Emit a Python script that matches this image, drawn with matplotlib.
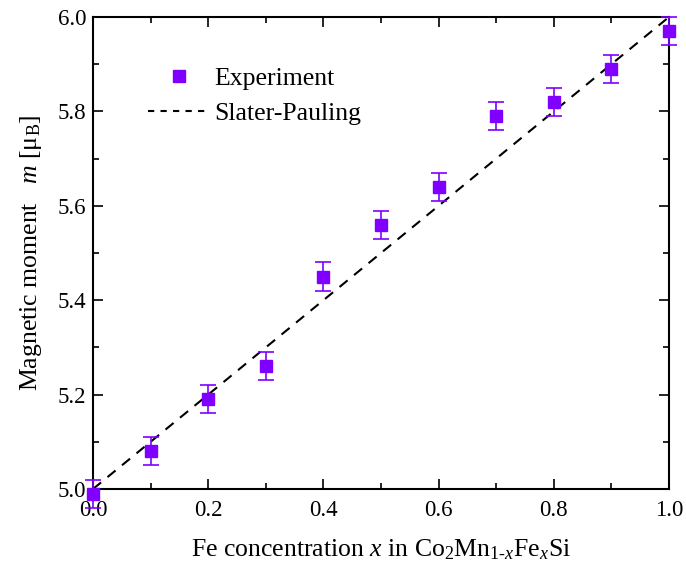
import matplotlib
matplotlib.use('Agg')
import matplotlib.pyplot as plt
from matplotlib.lines import Line2D
import numpy as np

plt.rcParams['font.family'] = ['Liberation Serif', 'DejaVu Serif']
plt.rcParams['mathtext.fontset'] = 'custom'
plt.rcParams['mathtext.rm'] = 'Liberation Serif'
plt.rcParams['mathtext.it'] = 'Liberation Serif:italic'

# measured moments vs Fe content
fe_conc = [0.0, 0.1, 0.2, 0.3, 0.4, 0.5, 0.6, 0.7, 0.8, 0.9, 1.0]
moment = [4.99, 5.08, 5.19, 5.26, 5.45, 5.56, 5.64, 5.79, 5.82, 5.89, 5.97]
moment_err = [0.03] * len(fe_conc)

# Slater-Pauling rule: m = 5 + x
sp_x = [0.0, 1.0]
sp_y = [5.0, 6.0]

purple = '#8000ff'
fs = 18.5
tick_fs = 16.5

fig = plt.figure(figsize=(6.86, 5.69), dpi=100)
ax = fig.add_axes([93 / 686, 1 - 489 / 569, (669 - 93) / 686, (489 - 17) / 569])

ax.plot(sp_x, sp_y, color='black', linestyle=(0, (5, 4)), linewidth=1.5, zorder=2)
ax.errorbar(fe_conc, moment, yerr=moment_err, fmt='s', color=purple,
            markersize=9, elinewidth=1.2, capsize=6, capthick=1.2,
            clip_on=False, zorder=3)

ax.set_xlim(0, 1.0)
ax.set_ylim(5.0, 6.0)
ax.set_xticks(np.arange(0, 1.01, 0.2))
ax.set_yticks(np.arange(5.0, 6.01, 0.2))
ax.set_xticks(np.arange(0.1, 1.0, 0.2), minor=True)
ax.set_yticks(np.arange(5.1, 6.0, 0.2), minor=True)
ax.xaxis.set_major_formatter(matplotlib.ticker.FormatStrFormatter('%.1f'))
ax.yaxis.set_major_formatter(matplotlib.ticker.FormatStrFormatter('%.1f'))
ax.tick_params(which='both', direction='in', top=True, right=True, labelsize=tick_fs, width=1.2)
ax.tick_params(which='major', length=7)
ax.tick_params(which='minor', length=4)
ax.tick_params(axis='x', which='major', pad=8)
ax.tick_params(axis='y', which='major', pad=5)
for sp in ax.spines.values():
    sp.set_linewidth(1.5)

ax.set_xlabel(r'Fe concentration $\mathit{x}$ in Co$_2$Mn$_{1\text{-}x}$Fe$_x$Si', fontsize=fs, labelpad=12)
ax.set_ylabel(r'Magnetic moment   $\mathit{m}$ [μ$_\mathrm{B}$]', fontsize=fs, labelpad=10)

handles = [
    Line2D([], [], marker='s', color=purple, linestyle='none', markersize=9),
    Line2D([], [], color='black', linestyle=(0, (3, 3)), linewidth=1.5),
]
ax.legend(handles, ['Experiment', 'Slater-Pauling'], loc='upper left',
          bbox_to_anchor=(0.055, 0.942), frameon=False, fontsize=fs,
          handlelength=2.4, handletextpad=0.2, labelspacing=0.45)

fig.savefig('out.png', dpi=100)
